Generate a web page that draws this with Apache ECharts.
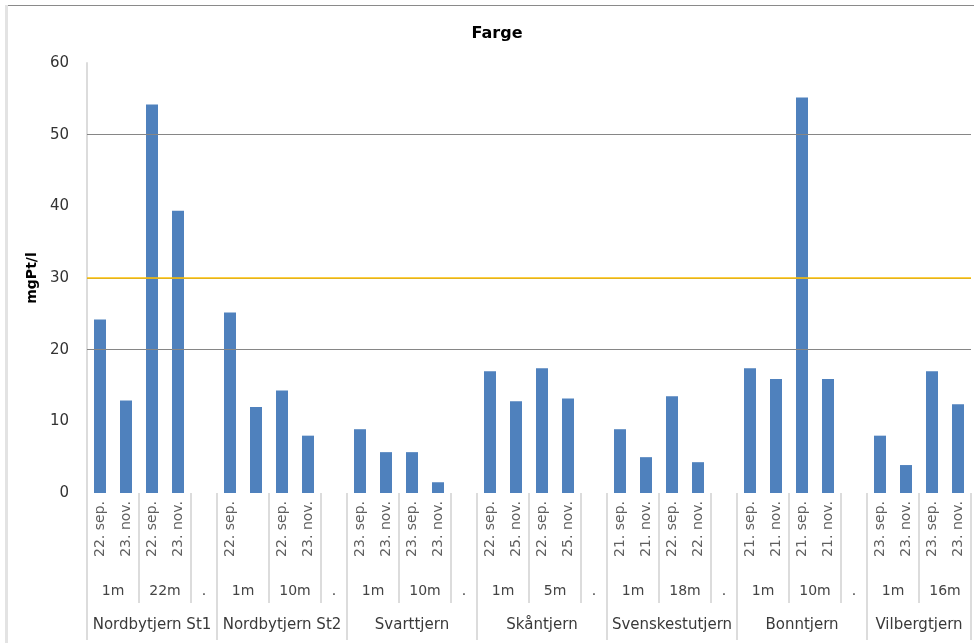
<!DOCTYPE html>
<html>
<head>
<meta charset="utf-8">
<script src="https://cdn.jsdelivr.net/npm/echarts@6/dist/echarts.min.js"></script>
<style>
  html, body { margin: 0; padding: 0; background: #fff; }
  #wrap { position: relative; width: 974px; height: 643px; }
  #chart { position: absolute; left: 0; top: 0; width: 974px; height: 643px; }
  .frame-top { position: absolute; left: 5px; right: 0; top: 5px; height: 1px; background: #8a8a8a; }
  .frame-left { position: absolute; left: 5px; top: 5px; bottom: 0; width: 3px; background: #e3e3e3; }
</style>
</head>
<body>
<div id="wrap">
  <div id="chart"></div>
  <div class="frame-top"></div>
  <div class="frame-left"></div>
</div>
<script>
// innsjøer, dyp og prøvedatoer (en plass per stolpe, "." = tom plass mellom sjøene)
const lakes = ["Nordbytjern St1", "Nordbytjern St2", "Svarttjern", "Skåntjern", "Svenskestutjern", "Bonntjern", "Vilbergtjern"];
const depths = [
  ["1m", "22m", "."],
  ["1m", "10m", "."],
  ["1m", "10m", "."],
  ["1m", "5m", "."],
  ["1m", "18m", "."],
  ["1m", "10m", "."],
  ["1m", "16m"]
];
const dateLabels = [
  "22. sep.", "23. nov.", "22. sep.", "23. nov.", "",
  "22. sep.", "", "22. sep.", "23. nov.", "",
  "23. sep.", "23. nov.", "23. sep.", "23. nov.", "",
  "22. sep.", "25. nov.", "22. sep.", "25. nov.", "",
  "21. sep.", "21. nov.", "22. sep.", "22. nov.", "",
  "21. sep.", "21. nov.", "21. sep.", "21. nov.", "",
  "23. sep.", "23. nov.", "23. sep.", "23. nov."
];
const fargeValues = [
  24.2, 12.9, 54.2, 39.4, null,
  25.2, 12.0, 14.3, 8.0, null,
  8.9, 5.7, 5.7, 1.5, null,
  17.0, 12.8, 17.4, 13.2, null,
  8.9, 5.0, 13.5, 4.3, null,
  17.4, 15.9, 55.2, 15.9, null,
  8.0, 3.9, 17.0, 12.4
];
const gridValues = [20, 30, 50];
const limitValue = 30;

// hjelpeakser: et punkt på hver halve stolpeplass
const nSlots = dateLabels.length;
const nPoints = nSlots * 2 + 1;
const depthText = new Array(nPoints).fill("");
const lakeText = new Array(nPoints).fill("");
const depthTicks = new Set();
const lakeTicks = new Set();
let slot = 0;
depths.forEach((grp, g) => {
  const start = slot;
  grp.forEach((d) => {
    if (d === ".") {
      depthText[2 * slot + 1] = d;
      slot += 1;
    } else {
      depthText[2 * slot + 2] = d;
      slot += 2;
    }
    depthTicks.add(2 * slot);
  });
  lakeTicks.add(2 * start);
  lakeTicks.add(2 * slot);
  lakeText[start + slot] = lakes[g];
});

const chart = echarts.init(document.getElementById("chart"));
const font = "'DejaVu Sans', sans-serif";

const option = {
  animation: false,
  textStyle: { fontFamily: font },
  title: {
    text: "Farge",
    left: 492,
    textAlign: "center",
    top: 21,
    textStyle: { fontSize: 16, fontWeight: "bold", color: "#000", fontFamily: font }
  },
  grid: { left: 87, right: 3, top: 63, bottom: 150 },
  xAxis: [
    {
      type: "category",
      data: dateLabels,
      axisLine: { show: false },
      axisTick: { show: false },
      axisLabel: { rotate: 90, interval: 0, margin: 8, fontSize: 14, color: "#606060" }
    },
    {
      type: "category",
      data: depthText,
      boundaryGap: false,
      position: "bottom",
      axisLine: { show: false },
      axisTick: {
        show: true,
        interval: (i) => depthTicks.has(i),
        length: 110,
        lineStyle: { color: "#dcdcdc", width: 2 }
      },
      axisLabel: { interval: (i) => depthText[i] !== "", margin: 91, fontSize: 14, color: "#444" }
    },
    {
      type: "category",
      data: lakeText,
      boundaryGap: false,
      position: "bottom",
      axisLine: { show: false },
      axisTick: {
        show: true,
        interval: (i) => lakeTicks.has(i),
        length: 147,
        lineStyle: { color: "#dcdcdc", width: 2 }
      },
      axisLabel: { interval: (i) => lakeText[i] !== "", margin: 125, fontSize: 15, color: "#3a3a3a" }
    }
  ],
  yAxis: {
    type: "value",
    min: 0,
    max: 60,
    interval: 10,
    name: "mgPt/l",
    nameLocation: "middle",
    nameGap: 47,
    nameTextStyle: { fontSize: 14, fontWeight: "bold", color: "#000" },
    axisLine: { show: true, lineStyle: { color: "#dcdcdc", width: 2 } },
    axisTick: { show: false },
    axisLabel: { margin: 18, fontSize: 15, color: "#333" },
    splitLine: { show: false }
  },
  series: [
    {
      name: "grid",
      type: "line",
      data: [],
      z: 1,
      silent: true,
      markLine: {
        symbol: "none",
        silent: true,
        label: { show: false },
        lineStyle: { color: "#868686", width: 1, type: "solid" },
        data: gridValues.map((v) => ({ yAxis: v }))
      }
    },
    {
      name: "Farge",
      type: "bar",
      data: fargeValues,
      barWidth: 12,
      z: 2,
      itemStyle: { color: "#4F81BD" }
    },
    {
      name: "grense",
      type: "line",
      data: [],
      z: 3,
      silent: true,
      markLine: {
        symbol: "none",
        silent: true,
        label: { show: false },
        lineStyle: { color: "#FFC000", width: 1.5, type: "solid" },
        data: [{ yAxis: limitValue }]
      }
    }
  ]
};

chart.setOption(option);
</script>
</body>
</html>
